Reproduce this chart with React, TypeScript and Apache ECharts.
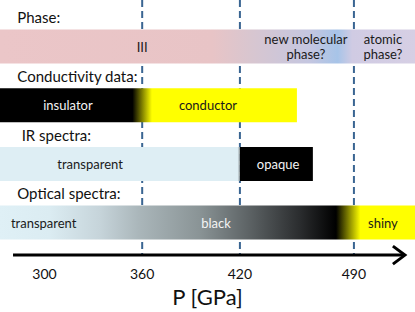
import React, { useEffect, useRef } from "react";
import * as echarts from "echarts";

// ---- data ----
const xMin = 272.7;
const xMax = 527.5;
const rowTitles = ["Phase:", "Conductivity data:", "IR spectra:", "Optical spectra:"];
const rowTitleX = [283.3, 283.3, 286, 283.3];
const tickValues = [300, 360, 420, 490];
const boundaries = [360, 420, 490];
const axisStart = 280.7;
const axisEnd = 521.3;

// gradient stops: [pressure (GPa), colour]
const phaseStops: [number, string][] = [
  [272.7, "#ebc6c8"],
  [403, "#e8c4c6"],
  [427, "#d8c6d0"],
  [463, "#c4c6e0"],
  [480, "#a7c4e8"],
  [489, "#d0cbe3"],
  [527.5, "#d6cfe4"],
];
const conductivityStops: [number, string][] = [
  [272.7, "#000000"],
  [354, "#000000"],
  [366, "#ffff00"],
  [455, "#ffff00"],
];
const irLightStops: [number, string][] = [
  [272.7, "#deeef4"],
  [418.5, "#deeef4"],
  [420, "#9aa2a4"],
];
const irDarkStops: [number, string][] = [
  [420, "#000000"],
  [464.8, "#000000"],
];
const opticalStops: [number, string][] = [
  [272.7, "#dff0f6"],
  [303, "#dbecf2"],
  [334, "#c6d4da"],
  [358, "#aab6ba"],
  [395, "#8a9496"],
  [426, "#5c6264"],
  [457, "#2a2c2e"],
  [479, "#000000"],
  [494, "#ffff00"],
  [527.5, "#ffff00"],
];

// segments: [row, start, end]
const segmentRows = [0, 1, 2, 2, 3];
const segmentStarts = [272.7, 272.7, 272.7, 420, 272.7];
const segmentEnds = [527.5, 455, 420, 464.8, 527.5];
const segmentStops = [phaseStops, conductivityStops, irLightStops, irDarkStops, opticalStops];

// bar texts
const labelTexts = [
  "III",
  "new molecular\nphase?",
  "atomic\nphase?",
  "insulator",
  "conductor",
  "transparent",
  "opaque",
  "transparent",
  "black",
  "shiny",
];
const labelX = [360, 460.5, 507.8, 314.4, 400.4, 328, 443.4, 299.5, 405.3, 507.8];
const labelRow = [0, 0, 0, 1, 1, 2, 2, 3, 3, 3];
const labelLight = [false, false, false, true, false, false, true, false, true, false];

const FONT = "Lato, 'Open Sans', sans-serif";

export default function App() {
  const ref = useRef<HTMLDivElement>(null);
  useEffect(() => {
    if (!ref.current) return;
    const chart = echarts.init(ref.current, undefined, { renderer: "svg" });
    const makeGradient = (stops: [number, string][], start: number, end: number) =>
      new echarts.graphic.LinearGradient(
        0,
        0,
        1,
        0,
        stops.map(([v, c]) => ({
          offset: Math.min(1, Math.max(0, (v - start) / (end - start))),
          color: c,
        }))
      );
    const option: any = {
      animation: false,
      grid: { left: 0, right: 0, top: 0, bottom: 49 },
      xAxis: {
        type: "value",
        min: xMin,
        max: xMax,
        axisLine: { show: false },
        axisTick: { show: false },
        splitLine: { show: false },
        axisLabel: {
          customValues: tickValues,
          fontSize: 14,
          color: "#111",
          fontFamily: FONT,
          margin: 11,
        },
        name: "P [GPa]",
        nameLocation: "middle",
        nameGap: 23,
        nameTextStyle: { fontSize: 22, color: "#111", fontFamily: FONT },
      },
      yAxis: {
        type: "value",
        inverse: true,
        min: -0.7934,
        max: 3.5537,
        show: false,
      },
      series: [
        {
          type: "custom",
          z: 1,
          silent: true,
          data: boundaries.map((b) => [b, 0]),
          renderItem: (params: any, api: any) => {
            const x = api.coord([api.value(0), 0])[0];
            const cs = params.coordSys;
            return {
              type: "line",
              shape: { x1: x, y1: cs.y, x2: x, y2: cs.y + cs.height },
              style: { stroke: "#3a6592", lineWidth: 2, lineDash: [7, 4] },
            };
          },
        },
        {
          type: "custom",
          z: 3,
          silent: true,
          data: segmentRows.map((r, i) => [segmentStarts[i], r, segmentEnds[i], i]),
          renderItem: (params: any, api: any) => {
            const i = api.value(3);
            const row = api.value(1);
            const start = api.value(0);
            const end = api.value(2);
            const p0 = api.coord([start, row]);
            const p1 = api.coord([end, row]);
            const h = 34;
            return {
              type: "rect",
              shape: { x: p0[0], y: p0[1] - h / 2, width: p1[0] - p0[0], height: h },
              style: { fill: makeGradient(segmentStops[i], start, end) },
            };
          },
        },
        {
          type: "custom",
          z: 4,
          silent: true,
          data: labelTexts.map((t, i) => [labelX[i], labelRow[i], i]),
          renderItem: (params: any, api: any) => {
            const i = api.value(2);
            const p = api.coord([api.value(0), api.value(1)]);
            return {
              type: "text",
              x: p[0],
              y: p[1],
              style: {
                text: labelTexts[i],
                fill: labelLight[i] ? "#f4f4f4" : "#1a1a1a",
                fontSize: 13,
                fontFamily: FONT,
                align: "center",
                verticalAlign: "middle",
                lineHeight: 15,
              },
            };
          },
        },
        {
          type: "custom",
          z: 4,
          silent: true,
          data: rowTitles.map((t, i) => [rowTitleX[i], i - 0.5, i]),
          renderItem: (params: any, api: any) => {
            const i = api.value(2);
            const p = api.coord([api.value(0), api.value(1)]);
            return {
              type: "text",
              x: p[0],
              y: p[1],
              style: {
                text: rowTitles[i],
                fill: "#111",
                fontSize: 15,
                fontFamily: FONT,
                align: "left",
                verticalAlign: "middle",
              },
            };
          },
        },
        {
          type: "custom",
          z: 5,
          silent: true,
          data: [[axisStart, 0, axisEnd]],
          renderItem: (params: any, api: any) => {
            const cs = params.coordSys;
            const y = cs.y + cs.height;
            const x0 = api.coord([api.value(0), 0])[0];
            const x1 = api.coord([api.value(2), 0])[0];
            return {
              type: "group",
              children: [
                {
                  type: "line",
                  shape: { x1: x0, y1: y, x2: x1 - 1, y2: y },
                  style: { stroke: "#000", lineWidth: 3 },
                },
                {
                  type: "polyline",
                  shape: {
                    points: [
                      [x1 - 12, y - 9],
                      [x1, y],
                      [x1 - 12, y + 9],
                    ],
                  },
                  style: { stroke: "#000", lineWidth: 3, fill: "none" },
                },
              ],
            };
          },
        },
      ],
    };
    chart.setOption(option);
    return () => chart.dispose();
  }, []);
  return (
    <div
      ref={ref}
      style={{ position: "fixed", left: 0, top: 0, width: 415, height: 312, background: "#fff" }}
    />
  );
}
